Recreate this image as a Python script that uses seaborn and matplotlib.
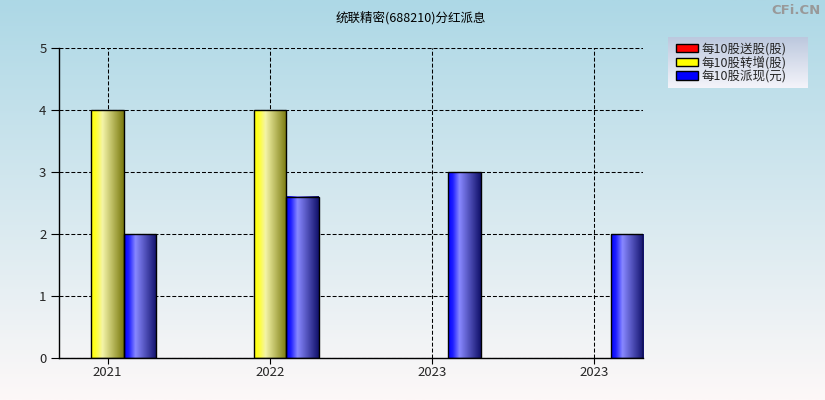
import numpy as np
import pandas as pd
import matplotlib
matplotlib.use('Agg')
import matplotlib.pyplot as plt
import seaborn as sns
from matplotlib.colors import LinearSegmentedColormap
from matplotlib.patches import Patch

years = ['2021', '2022', '2023', '2023']
song = [0, 0, 0, 0]
zhuan = [4, 4, 0, 0]
pai = [2, 2.6, 3, 2]
series = ['每10股送股(股)', '每10股转增(股)', '每10股派现(元)']
colors = ['#ff0000', '#ffff00', '#0000ff']
title = '统联精密(688210)分红派息'
yticks = [0, 1, 2, 3, 4, 5]

sns.set_theme(style='white')
plt.rcParams['font.family'] = ['Noto Sans CJK SC', 'DejaVu Sans']

rows = []
for i, y in enumerate(years):
    for s, vals in zip(series, [song, zhuan, pai]):
        rows.append({'pos': i, 'series': s, 'value': vals[i]})
df = pd.DataFrame(rows)

W, H = 825, 400
fig = plt.figure(figsize=(W / 100, H / 100), dpi=100)

# background gradient
bg = fig.add_axes([0, 0, 1, 1], zorder=-10)
grad = np.linspace(0, 1, 256)[:, None]
bg.imshow(grad, aspect='auto', origin='upper', extent=[0, 1, 0, 1],
          cmap=LinearSegmentedColormap.from_list('bg', ['#add8e6', '#fdf8f8']))
bg.axis('off')

ax = fig.add_axes([59 / W, 42 / H, (643 - 59) / W, (358 - 48) / H])
ax.set_facecolor('none')
sns.barplot(data=df, x='pos', y='value', hue='series', hue_order=series,
            palette=colors, width=0.6, saturation=1, ax=ax, legend=False,
            edgecolor='black', linewidth=1, errorbar=None)

grad_maps = {
    '#ff0000': LinearSegmentedColormap.from_list('r', [(0, '#ff0000'), (0.15, '#ff2020'), (0.35, '#ff9090'), (1, '#800000')]),
    '#ffff00': LinearSegmentedColormap.from_list('y', [(0, '#ffff00'), (0.15, '#ffff30'), (0.35, '#f4f4a8'), (1, '#78780c')]),
    '#0000ff': LinearSegmentedColormap.from_list('b', [(0, '#0000ff'), (0.15, '#2020ff'), (0.35, '#8888ff'), (1, '#10106a')]),
}
hgrad = np.linspace(0, 1, 256)[None, :]
for p in list(ax.patches):
    h = p.get_height()
    if h <= 0:
        p.set_visible(False)
        continue
    fc = matplotlib.colors.to_hex(p.get_facecolor())
    x0 = p.get_x()
    x1 = x0 + p.get_width()
    cm = grad_maps.get(fc)
    if cm is not None:
        ax.imshow(hgrad, aspect='auto', extent=[x0, x1, 0, h], cmap=cm, zorder=2.5)
    p.set_facecolor('none')
    p.set_zorder(3)

ax.set_xlim(-0.3, 3.3)
ax.set_ylim(0, 5)
ax.set_xticks(range(len(years)))
ax.set_xticklabels(years)
ax.set_yticks(yticks)
ax.set_xlabel('')
ax.set_ylabel('')
ax.set_axisbelow(True)
ax.grid(True, color='black', linestyle=(0, (3.8, 1.9)), linewidth=0.75)
for s in ['top', 'right']:
    ax.spines[s].set_visible(False)
for s in ['left', 'bottom']:
    ax.spines[s].set_color('black')
    ax.spines[s].set_linewidth(1)
ax.tick_params(axis='y', left=True, length=6, width=0.8, color='black', labelsize=9.5, pad=3)
ax.tick_params(axis='x', bottom=True, length=4, width=0.8, color='black', labelsize=9.5, pad=2)

fig.text(411 / W, 1 - 18 / H, title, ha='center', va='center', fontsize=9, color='black')
fig.text(821 / W, 1 - 10 / H, 'CFi.CN', ha='right', va='center', fontsize=9.5,
         fontweight='bold', color='#999999', family=['DejaVu Sans'])

# legend box with gradient
lax = fig.add_axes([668 / W, 1 - 88 / H, (808 - 668) / W, (88 - 37) / H])
lax.imshow(grad, aspect='auto', origin='upper', extent=[0, 1, 0, 1],
           cmap=LinearSegmentedColormap.from_list('lg', ['#bcc8de', '#f4f4fa']))
lax.set_xlim(0, 1)
lax.set_ylim(0, 1)
lax.axis('off')
handles = [Patch(facecolor=c, edgecolor='black', linewidth=1) for c in colors]
lax.legend(handles, series, loc='center left', bbox_to_anchor=(0.0, 0.5), frameon=False,
           fontsize=9, handlelength=1.8, handleheight=0.7, labelspacing=0.03,
           handletextpad=0.3, borderpad=0.1, borderaxespad=0.5)

fig.savefig('out.png', dpi=100)
